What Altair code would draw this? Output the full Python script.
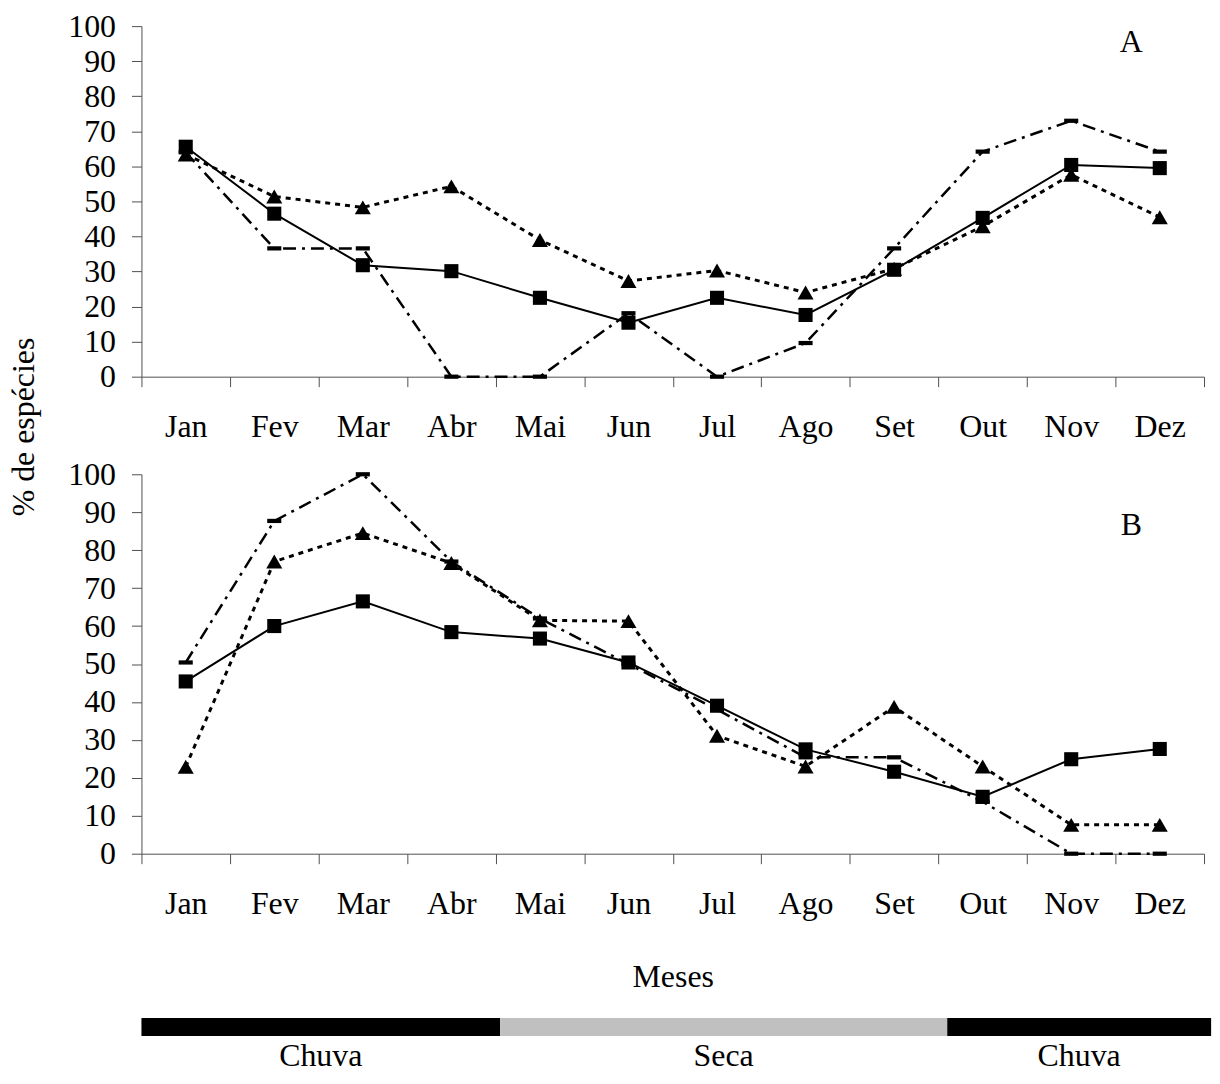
import altair as alt
import pandas as pd

months = ["Jan", "Fev", "Mar", "Abr", "Mai", "Jun", "Jul", "Ago", "Set", "Out", "Nov", "Dez"]

# Panel A
a_square = [65.6, 46.5, 31.8, 30.1, 22.5, 15.4, 22.5, 17.6, 30.5, 45.3, 60.4, 59.5]
a_triangle = [63.4, 51.4, 48.3, 54.3, 39.0, 27.3, 30.3, 24.0, 30.8, 42.9, 57.6, 45.5]
a_dash = [64.0, 36.6, 36.6, 0.0, 0.0, 18.1, 0.0, 9.6, 36.6, 64.2, 73.0, 64.2]

# Panel B
b_square = [45.4, 60.0, 66.5, 58.4, 56.7, 50.4, 39.0, 27.5, 21.6, 15.0, 24.9, 27.6]
b_triangle = [22.9, 77.0, 84.5, 76.6, 61.5, 61.3, 31.1, 23.0, 38.7, 23.0, 7.6, 7.6]
b_dash = [50.4, 87.7, 100.0, 77.0, 62.0, 50.0, 38.0, 25.4, 25.4, 13.7, 0.0, 0.0]

# Seasons bar
season_labels = ["Chuva", "Seca", "Chuva"]
season_start = [0, 4.05, 9.1]
season_end = [4.05, 9.1, 12.08]
season_colors = ["#000000", "#c0c0c0", "#000000"]

FONT = "Liberation Serif"
FS = 32
W = 1067
AXC = "#505050"

DASH_PATH = "M-1,-0.3L1,-0.3L1,0.3L-1,0.3Z"

styles = {
    "sq": dict(dash=None, width=2, shape="square", size=200),
    "tri": dict(dash=[5, 5], width=3, shape="triangle-up", size=260),
    "dash": dict(dash=[13, 6, 3, 6], width=2.5, shape=DASH_PATH, size=200),
}


def panel(sq, tri, dsh, letter, height, letter_y, show_ytitle, show_xtitle):
    xaxis = alt.Axis(
        labelAngle=0, tickBand="extent", tickSize=10, labelPadding=25,
        labelFont=FONT, labelFontSize=FS, labelColor="black",
        domainColor=AXC, tickColor=AXC, grid=False,
        title="Meses" if show_xtitle else None,
        titleFont=FONT, titleFontSize=FS, titleFontWeight="normal",
        titleColor="black", titlePadding=42,
    )
    yargs = dict(
        values=list(range(0, 101, 10)), tickSize=10, labelPadding=16,
        labelFont=FONT, labelFontSize=FS, labelColor="black",
        domainColor=AXC, tickColor=AXC, grid=False,
    )
    if show_ytitle:
        yargs.update(
            title="% de espécies", titleFont=FONT, titleFontSize=FS,
            titleFontWeight="normal", titleColor="black", titleAngle=-90,
            titleX=-118, titleY=402, titleAlign="center", titleBaseline="middle",
        )
    else:
        yargs.update(title=None)
    yaxis = alt.Axis(**yargs)

    layers = []
    for key, vals in (("tri", tri), ("dash", dsh), ("sq", sq)):
        st = styles[key]
        df = pd.DataFrame({"mes": months, "valor": vals})
        base = alt.Chart(df).encode(
            x=alt.X("mes:N", sort=months, axis=xaxis,
                    scale=alt.Scale(paddingInner=0, paddingOuter=0)),
            y=alt.Y("valor:Q", axis=yaxis,
                    scale=alt.Scale(domain=[0, 100], nice=False)),
        )
        lkw = dict(color="black", strokeWidth=st["width"])
        if st["dash"]:
            lkw["strokeDash"] = st["dash"]
        layers.append(base.mark_line(**lkw))
        layers.append(base.mark_point(filled=True, shape=st["shape"], size=st["size"],
                                      color="black", opacity=1, strokeWidth=0))
    label = alt.Chart(pd.DataFrame({"t": [letter]})).mark_text(
        font=FONT, fontSize=FS, color="black", align="center", baseline="middle"
    ).encode(text="t:N", x=alt.value(994), y=alt.value(letter_y))
    layers.append(label)
    return alt.layer(*layers).properties(width=W, height=height)


pa = panel(a_square, a_triangle, a_dash, "A", 352, 16, True, False)
pb = panel(b_square, b_triangle, b_dash, "B", 381, 51, False, True)

sdf = pd.DataFrame({
    "label": season_labels, "start": season_start, "end": season_end,
    "color": season_colors,
})
sdf["mid"] = (sdf["start"] + sdf["end"]) / 2
xs = alt.Scale(domain=[0, 12], nice=False, zero=False)
BAR_TOP = 67
bar = alt.Chart(sdf).mark_rect(clip=False).encode(
    x=alt.X("start:Q", scale=xs, axis=None),
    x2="end:Q",
    y=alt.value(BAR_TOP), y2=alt.value(BAR_TOP + 18),
    color=alt.Color("color:N", scale=None),
)
btxt = alt.Chart(sdf).mark_text(
    font=FONT, fontSize=FS, color="black", align="center", baseline="alphabetic"
).encode(
    x=alt.X("mid:Q", scale=xs, axis=None),
    y=alt.value(BAR_TOP + 48),
    text="label:N",
)
barchart = alt.layer(bar, btxt).properties(width=W, height=BAR_TOP + 18)

chart = alt.vconcat(pa, pb, barchart, spacing=98, bounds="flush").resolve_scale(
    x="independent", y="independent"
).properties(padding=0).configure_view(strokeWidth=0)

chart.save("out.html", embed_options={"renderer": "svg", "actions": False})
